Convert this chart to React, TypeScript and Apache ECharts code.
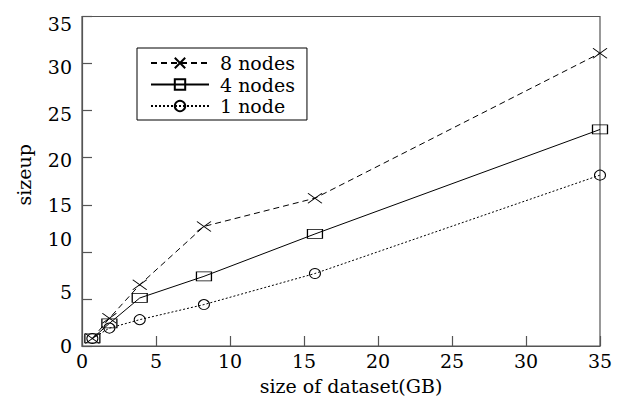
import React, { useEffect, useRef } from "react";
import * as echarts from "echarts";

// ---- data ----
const sizesGB = [0.7, 1.85, 3.9, 8.24, 15.74, 35];
const sizeup8 = [0.8, 2.95, 6.5, 12.7, 15.7, 31.1];
const sizeup4 = [0.8, 2.4, 5.1, 7.4, 11.9, 23.0];
const sizeup1 = [0.8, 1.9, 2.8, 4.4, 7.7, 18.15];
const seriesNames = ["8 nodes", "4 nodes", "1 node"];
const xTitle = "size of dataset(GB)";
const yTitle = "sizeup";

// ---- style only: vertical nudges of y tick labels as printed in the reference (px, + = down) ----
const yLabelNudge: Record<string, number> = { "35": 7, "30": 3, "25": 3, "20": 2, "15": 0, "10": -13, "5": -7, "0": 0 };

const FONT = "DejaVu Serif";
const FS = 19;
const INK = "#000";
const FRAME = "#555";

function pairs(xs: number[], ys: number[]) {
  return xs.map((x, i) => [x, ys[i]]);
}

export default function App() {
  const ref = useRef<HTMLDivElement>(null);
  useEffect(() => {
    if (!ref.current) return;
    const chart = echarts.init(ref.current, undefined, { renderer: "svg" });

    const rich: Record<string, any> = {
      v: { fontFamily: FONT, fontSize: FS, lineHeight: FS, color: INK },
    };
    Object.values(yLabelNudge).forEach((n) => {
      const h = Math.abs(n) * 2;
      if (h > 0) rich["g" + h] = { fontSize: 1, lineHeight: h };
    });

    const yFormatter = (val: number) => {
      const n = yLabelNudge[String(val)] || 0;
      const key = "g" + Math.abs(n) * 2;
      if (n < 0) return `{v|${val}}\n{${key}| }`;
      if (n > 0) return `{${key}| }\n{v|${val}}`;
      return `{v|${val}}`;
    };

    const lineBase = { color: INK, width: 1 };

    chart.setOption({
      animation: false,
      backgroundColor: "#fff",
      grid: {
        left: 82,
        right: 20,
        top: 10,
        bottom: 59,
        show: true,
        borderColor: FRAME,
        borderWidth: 1.2,
        backgroundColor: "transparent",
      },
      legend: {
        orient: "vertical",
        left: 137,
        top: 48,
        padding: [5, 12, 4, 13],
        borderColor: INK,
        borderWidth: 1,
        backgroundColor: "#fff",
        itemWidth: 58,
        itemHeight: 13,
        itemGap: 1.5,
        selectedMode: false,
        textStyle: { fontFamily: FONT, fontSize: FS, lineHeight: 20, color: INK, padding: [0, 0, 0, 6] },
        data: seriesNames,
      },
      xAxis: {
        type: "value",
        min: 0,
        max: 35,
        interval: 5,
        name: xTitle,
        nameLocation: "middle",
        nameGap: 30,
        nameTextStyle: { fontFamily: FONT, fontSize: FS, color: INK, padding: [0, 0, 0, 20] },
        axisLine: { show: true, onZero: false, lineStyle: { color: FRAME, width: 1.2 } },
        axisTick: { show: true, inside: true, length: 10, lineStyle: { color: FRAME, width: 1.2 } },
        axisLabel: { margin: 5, fontFamily: FONT, fontSize: FS, color: INK, showMinLabel: true, showMaxLabel: true },
        splitLine: { show: false },
      },
      yAxis: {
        type: "value",
        min: 0,
        max: 35,
        interval: 5,
        name: yTitle,
        nameLocation: "middle",
        nameGap: 49,
        nameTextStyle: { fontFamily: FONT, fontSize: FS, color: INK, padding: [0, 0, 0, 13] },
        axisLine: { show: true, onZero: false, lineStyle: { color: FRAME, width: 1.2 } },
        axisTick: { show: true, inside: true, length: 10, lineStyle: { color: FRAME, width: 1.2 } },
        axisLabel: {
          margin: 10,
          fontFamily: FONT,
          fontSize: FS,
          lineHeight: FS,
          color: INK,
          showMinLabel: true,
          showMaxLabel: true,
          formatter: yFormatter,
          rich,
        },
        splitLine: { show: false },
      },
      series: [
        {
          name: seriesNames[0],
          type: "line",
          data: pairs(sizesGB, sizeup8),
          symbol: "path://M0,0L14,10M14,0L0,10",
          symbolSize: [14, 10],
          symbolKeepAspect: false,
          itemStyle: { color: "none", borderColor: INK, borderWidth: 1 },
          lineStyle: { ...lineBase, type: [6, 4] },
        },
        {
          name: seriesNames[1],
          type: "line",
          data: pairs(sizesGB, sizeup4),
          symbol: "rect",
          symbolSize: [15, 9],
          itemStyle: { color: "none", borderColor: INK, borderWidth: 1 },
          lineStyle: { ...lineBase, type: "solid" },
        },
        {
          name: seriesNames[2],
          type: "line",
          data: pairs(sizesGB, sizeup1),
          symbol: "circle",
          symbolSize: [11, 10],
          itemStyle: { color: "none", borderColor: INK, borderWidth: 1 },
          lineStyle: { ...lineBase, type: [2, 2] },
        },
      ],
    });
    return () => chart.dispose();
  }, []);

  return (
    <div
      ref={ref}
      style={{ position: "fixed", left: 0, top: 0, width: 620, height: 405, background: "#fff" }}
    />
  );
}
